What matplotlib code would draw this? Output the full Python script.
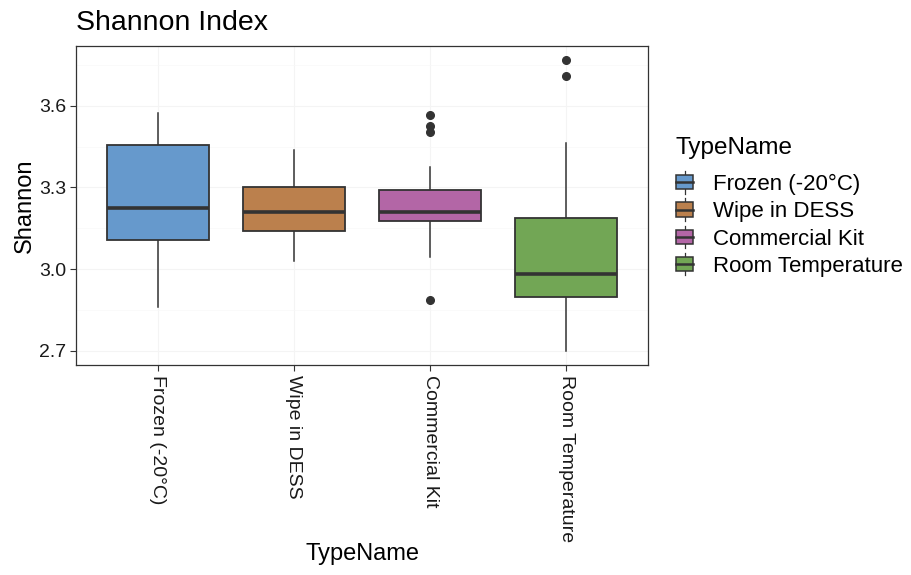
import numpy as np
import matplotlib.pyplot as plt
from matplotlib.legend_handler import HandlerBase
from matplotlib.patches import Rectangle
from matplotlib.lines import Line2D

plt.rcParams['font.family'] = ['Liberation Sans', 'DejaVu Sans']

# box statistics
groups = ['Frozen (-20°C)', 'Wipe in DESS', 'Commercial Kit', 'Room Temperature']
colors = ['#6699CC', '#BB804D', '#B366A6', '#72A655']
whislo = [2.859, 3.031, 3.045, 2.700]
q1 = [3.107, 3.141, 3.175, 2.898]
med = [3.223, 3.211, 3.211, 2.981]
q3 = [3.457, 3.303, 3.292, 3.186]
whishi = [3.572, 3.437, 3.374, 3.462]
fliers = [[], [], [3.565, 3.526, 3.505, 2.885], [3.768, 3.711]]

edge = '#333333'

stats = []
for i in range(len(groups)):
    stats.append(dict(label=groups[i], whislo=whislo[i], q1=q1[i], med=med[i],
                      q3=q3[i], whishi=whishi[i], fliers=fliers[i]))

fig = plt.figure(figsize=(9.11, 5.75), dpi=100)
ax = fig.add_axes([76 / 911, 1 - 365 / 575, (648 - 76) / 911, (365 - 46) / 575])

pos = np.arange(1, len(groups) + 1)
bp = ax.bxp(stats, positions=pos, widths=0.75, patch_artist=True, showcaps=False,
            boxprops=dict(edgecolor=edge, linewidth=1.3),
            medianprops=dict(color=edge, linewidth=2.6, solid_capstyle='butt'),
            whiskerprops=dict(color=edge, linewidth=1.1),
            flierprops=dict(marker='o', markerfacecolor=edge, markeredgecolor=edge,
                            markersize=5.5))
for patch, c in zip(bp['boxes'], colors):
    patch.set_facecolor(c)
for w in bp['whiskers']:
    w.set_zorder(1)

ax.set_xlim(0.4, 4.6)
ax.set_ylim(2.647, 3.82)
ax.set_yticks([2.7, 3.0, 3.3, 3.6])
ax.set_yticklabels(['2.7', '3.0', '3.3', '3.6'])
ax.set_yticks([2.85, 3.15, 3.45, 3.75], minor=True)
ax.set_xticks(pos)
ax.set_xticklabels(groups, rotation=270, va='top', ha='center')
ax.grid(True, which='major', color='#F4F4F4', linewidth=0.8, zorder=0)
ax.grid(True, which='minor', axis='y', color='#F8F8F8', linewidth=0.5, zorder=0)
ax.set_axisbelow(True)
ax.tick_params(axis='both', which='major', length=4, width=0.8, color='#333333',
               labelsize=14, labelcolor='#1a1a1a', pad=3)
ax.tick_params(axis='y', which='minor', length=0)
for s in ax.spines.values():
    s.set_color('#333333')
    s.set_linewidth(0.9)

ax.set_ylabel('Shannon', fontsize=17, labelpad=2)
ax.set_xlabel('TypeName', fontsize=17, labelpad=1)
fig.text(76 / 911, 1 - 30 / 575, 'Shannon Index', fontsize=20.5, ha='left', va='baseline')


class BoxKey(HandlerBase):
    def __init__(self, color):
        super().__init__()
        self.color = color

    def create_artists(self, legend, orig_handle, xdescent, ydescent, width, height,
                       fontsize, trans):
        cx = width / 2 - xdescent
        vl = Line2D([cx, cx], [-ydescent - 3, height - ydescent + 3], color=edge,
                    linewidth=0.9, transform=trans)
        r = Rectangle((-xdescent, -ydescent), width, height,
                      facecolor=self.color, edgecolor=edge, linewidth=1.1, transform=trans)
        ml = Line2D([-xdescent, width - xdescent], [height / 2 - ydescent] * 2,
                    color=edge, linewidth=1.8, transform=trans)
        return [vl, r, ml]


fig.text(675 / 911, 1 - 148 / 575, 'TypeName', fontsize=17.5, ha='left', va='center')
handles = [Rectangle((0, 0), 1, 1) for _ in groups]
hmap = {h: BoxKey(c) for h, c in zip(handles, colors)}
leg = fig.legend(handles, groups, handler_map=hmap,
                 loc='upper left', bbox_to_anchor=(676 / 911, 1 - 174 / 575),
                 frameon=False, fontsize=16, borderpad=0, borderaxespad=0,
                 handlelength=0.77, handleheight=0.6, handletextpad=0.9,
                 labelspacing=0.28)

fig.savefig('out.png', dpi=100)
